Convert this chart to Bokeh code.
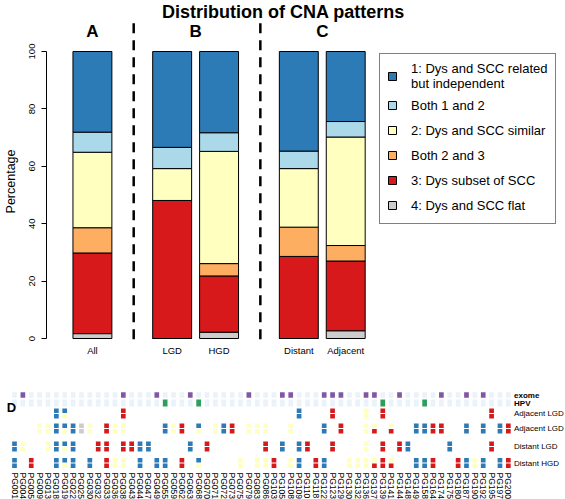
import math
from bokeh.plotting import figure
from bokeh.models import ColumnDataSource, Range1d, Legend, LegendItem, Label, FixedTicker
from bokeh.embed import file_html
from bokeh.resources import INLINE
from bokeh.core.properties import value

FONT = "Liberation Sans"

# ---------------- data: panels A-C ----------------
groups = ["All", "LGD", "HGD", "Distant", "Adjacent"]
panel_letters = ["A", "B", "C"]
title_text = "Distribution of CNA patterns"
pattern_labels = ["1: Dys and SCC related\nbut independent", "Both 1 and 2",
                  "2: Dys and SCC similar", "Both 2 and 3",
                  "3: Dys subset of SCC", "4: Dys and SCC flat"]
pct_flat = [1.7, 0.0, 2.2, 0.0, 2.7]
pct_subset = [28.1, 48.1, 19.6, 28.6, 24.3]
pct_both23 = [8.8, 0.0, 4.3, 10.2, 5.4]
pct_similar = [26.3, 11.1, 39.1, 20.4, 37.8]
pct_both12 = [7.0, 7.4, 6.5, 6.1, 5.4]
pct_independent = [28.1, 33.4, 28.3, 34.7, 24.4]
yticks = [0, 20, 40, 60, 80, 100]

# ---------------- data: panel D ----------------
samples = ["PG001", "PG004", "PG005", "PG009", "PG013", "PG018", "PG019", "PG022", "PG025", "PG030",
           "PG032", "PG033", "PG036", "PG038", "PG043", "PG044", "PG047", "PG049", "PG055", "PG059",
           "PG062", "PG063", "PG068", "PG070", "PG071", "PG072", "PG073", "PG075", "PG079", "PG083",
           "PG086", "PG103", "PG105", "PG108", "PG109", "PG110", "PG118", "PG122", "PG123", "PG129",
           "PG130", "PG132", "PG136", "PG137", "PG139", "PG141", "PG144", "PG148", "PG149", "PG158",
           "PG164", "PG174", "PG175", "PG180", "PG187", "PG190", "PG192", "PG195", "PG197", "PG200"]
exome_samples = ["PG004", "PG038", "PG049", "PG063", "PG079", "PG105", "PG108", "PG122", "PG123",
                 "PG129", "PG136", "PG137", "PG144", "PG174", "PG187", "PG192"]
hpv_samples = ["PG055", "PG068", "PG139", "PG158"]
row_labels = ["exome", "HPV", "Adjacent LGD", "Adjacent LGD", "Distant LGD", "Distant HGD"]
# pattern per lesion: (upper, lower) pattern code 1..4
adjacent_lgd_a = {"PG018": (1, 1), "PG019": (1, 2), "PG038": (3, 3), "PG109": (1, 1), "PG123": (3, 3),
                  "PG136": (2, 2), "PG139": (3, 3), "PG195": (3, 3)}
adjacent_lgd_b = {"PG009": (2, 2), "PG013": (2, 2), "PG018": (1, 1), "PG019": (1, 2), "PG022": (1, 1),
                  "PG025": (4, 4), "PG030": (2, 2), "PG033": (3, 3), "PG036": (2, 2), "PG038": (2, 2),
                  "PG055": (1, 1), "PG059": (2, 2), "PG062": (3, 3), "PG068": (1, 2), "PG071": (2, 2),
                  "PG072": (1, 1), "PG073": (3, 3), "PG079": (2, 2), "PG083": (2, 2), "PG086": (2, 2),
                  "PG108": (2, 2), "PG122": (1, 1), "PG129": (3, 3), "PG136": (2, 2), "PG137": (2, 3),
                  "PG141": (2, 3), "PG149": (1, 1), "PG158": (1, 1), "PG164": (3, 3), "PG174": (3, 3),
                  "PG187": (1, 1), "PG192": (1, 1), "PG197": (1, 1), "PG200": (3, 3)}
distant_lgd = {"PG001": (1, 1), "PG004": (2, 2), "PG013": (2, 2), "PG018": (1, 1), "PG019": (1, 2),
               "PG022": (1, 1), "PG032": (3, 3), "PG033": (3, 3), "PG038": (3, 3), "PG043": (3, 3),
               "PG044": (1, 1), "PG047": (1, 1), "PG063": (1, 1), "PG070": (3, 3), "PG086": (3, 3),
               "PG105": (1, 1), "PG109": (1, 1), "PG110": (3, 3), "PG123": (3, 3), "PG136": (2, 2),
               "PG139": (3, 3), "PG144": (3, 3), "PG148": (1, 1), "PG175": (1, 1), "PG195": (3, 3)}
distant_hgd = {"PG001": (1, 1), "PG005": (3, 3), "PG018": (1, 1), "PG019": (1, 2), "PG022": (1, 1),
               "PG030": (1, 1), "PG033": (3, 3), "PG036": (2, 2), "PG038": (2, 2), "PG044": (1, 1),
               "PG049": (1, 1), "PG055": (1, 1), "PG062": (3, 3), "PG068": (1, 2), "PG075": (2, 2),
               "PG083": (2, 2), "PG086": (2, 2), "PG103": (3, 3), "PG108": (2, 2), "PG109": (1, 1),
               "PG118": (3, 3), "PG122": (1, 1), "PG130": (2, 2), "PG132": (2, 2), "PG136": (2, 2),
               "PG137": (2, 3), "PG139": (3, 3), "PG141": (2, 3), "PG149": (1, 1), "PG158": (1, 1),
               "PG164": (3, 3), "PG180": (3, 3), "PG187": (1, 1), "PG190": (2, 2), "PG192": (1, 1),
               "PG197": (1, 1), "PG200": (3, 3)}

# ---------------- styles / layout ----------------
pattern_colors = {1: "#2C7BB6", 2: "#FFFFBF", 3: "#D7191C", 4: "#CCCCCC"}
stack_colors = ["#CCCCCC", "#D7191C", "#FDAE61", "#FFFFBF", "#ABD9E9", "#2C7BB6"]
bar_x = [0.5, 2.2, 3.2, 4.9, 5.9]
letter_x = [0.5, 2.7, 5.4]
divider_x = [1.38, 4.08]

# ================= top figure =================
p = figure(width=565, height=362, x_range=Range1d(-0.479, 10.415), y_range=Range1d(-8.36, 117.77),
           output_backend="svg", toolbar_location=None, x_axis_location=None,
           min_border_left=45, min_border_right=8, min_border_top=0, min_border_bottom=0)
p.outline_line_color = None
p.grid.visible = False

ax = p.yaxis[0]
ax.ticker = FixedTicker(ticks=yticks)
ax.bounds = (0, 100)
ax.major_label_orientation = "vertical"
ax.major_tick_in = 0
ax.major_tick_out = 5
ax.minor_tick_in = 0
ax.minor_tick_out = 0
ax.major_label_standoff = 6
ax.major_label_text_font = FONT
ax.major_label_text_font_size = "9.5px"
ax.major_label_text_color = "black"
ax.axis_line_color = "black"
ax.major_tick_line_color = "black"
ax.axis_label = "Percentage"
ax.axis_label_standoff = 9
ax.axis_label_text_font = FONT
ax.axis_label_text_font_style = "normal"
ax.axis_label_text_font_size = "12.5px"
ax.axis_label_text_color = "black"

src = ColumnDataSource(dict(x=bar_x, flat=pct_flat, subset=pct_subset, both23=pct_both23,
                            similar=pct_similar, both12=pct_both12, independent=pct_independent))
keys = ["flat", "subset", "both23", "similar", "both12", "independent"]
rs = p.vbar_stack(keys, x="x", width=0.83, fill_color=stack_colors, line_color="black",
                  line_width=1, source=src)

p.segment(x0=divider_x, y0=[-0.3] * 2, x1=divider_x, y1=[109.8] * 2, line_color="black",
          line_width=2.5, line_dash="10 7")

p.text(x=bar_x, y=[-4.2] * len(bar_x), text=groups, text_align="center", text_baseline="middle",
       text_font=value(FONT), text_font_size="9.5px", text_color="black")
p.text(x=letter_x, y=[107] * 3, text=panel_letters, text_align="center", text_baseline="middle",
       text_font=value(FONT), text_font_size="17px", text_font_style="bold", text_color="black")
p.add_layout(Label(x=4.574, y=113.6, text=title_text, text_align="center", text_baseline="middle",
                   text_font=FONT, text_font_size="18px", text_font_style="bold", text_color="black"))

legend = Legend(items=[LegendItem(label=pattern_labels[i], renderers=[rs[5 - i]]) for i in range(6)],
                location=(333, 138), padding=7, spacing=3, glyph_width=10, glyph_height=10,
                label_height=22, label_standoff=14, label_text_font=FONT,
                label_text_font_size="13px", label_text_color="black",
                border_line_color="black", border_line_width=1, background_fill_color="white",
                background_fill_alpha=1.0)
p.add_layout(legend)

# ================= heatmap figure =================
h = figure(width=565, height=137, x_range=Range1d(-1.673, 65.83), y_range=Range1d(137, 0),
           output_backend="svg", toolbar_location=None, x_axis_location=None, y_axis_location=None,
           min_border=0)
h.outline_line_color = None
h.grid.visible = False

row_y = [32.5, 40.5, 51.0, 66.0, 84.0, 100.5]
light = "#EAF2FA"
xs = list(range(len(samples)))
h.rect(x=xs, y=[row_y[0]] * len(xs), width=0.56, height=5.5,
       fill_color=["#8156A7" if s in exome_samples else light for s in samples], line_color=None)
h.rect(x=xs, y=[row_y[1]] * len(xs), width=0.56, height=7,
       fill_color=["#2E9E5E" if s in hpv_samples else light for s in samples], line_color=None)

cx, cy, cc = [], [], []
for r, d in zip(row_y[2:], [adjacent_lgd_a, adjacent_lgd_b, distant_lgd, distant_hgd]):
    for s, (up, lo) in d.items():
        i = samples.index(s)
        cx += [i, i]
        cy += [r - 2.7, r + 2.7]
        cc += [pattern_colors[up], pattern_colors[lo]]
h.rect(x=cx, y=cy, width=0.56, height=4.6, fill_color=cc, line_color=None)

h.text(x=xs, y=[110] * len(xs), text=samples, angle=-math.pi / 2, text_align="left",
       text_baseline="middle", text_font=value(FONT), text_font_size="8.5px", text_color="black")
h.text(x=[59.68] * 2, y=row_y[:2], text=row_labels[:2], text_align="left", text_baseline="middle",
       text_font=value(FONT), text_font_size="8px", text_font_style="bold", text_color="black")
h.text(x=[59.68] * 4, y=row_y[2:], text=row_labels[2:], text_align="left", text_baseline="middle",
       text_font=value(FONT), text_font_size="8px", text_color="black")
h.add_layout(Label(x=-0.36, y=45, text="D", text_align="center", text_baseline="middle",
                   text_font=FONT, text_font_size="13px", text_font_style="bold", text_color="black"))

open("out.html", "w").write(file_html([p, h], INLINE))
